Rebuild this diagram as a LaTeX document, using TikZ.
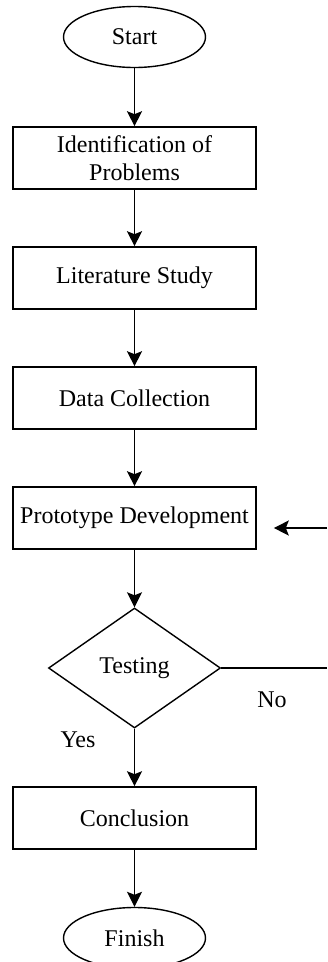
\documentclass[tikz,border=0pt]{standalone}
\usepackage{fontspec}
\setmainfont{Liberation Serif}
\usetikzlibrary{shapes.geometric,arrows.meta}
\begin{document}
\begin{tikzpicture}[x=1pt,y=-1pt,node distance=120pt,font=\fontsize{24}{28}\selectfont]
\tikzstyle{terminal} = [ellipse, minimum width=142pt, minimum height=61pt, inner sep=0pt, draw=black, line width=1.4pt]
\tikzstyle{process} = [rectangle, minimum width=243pt, minimum height=62pt, inner sep=2pt, text centered, align=center, draw=black, line width=1.6pt]
\tikzstyle{decision} = [diamond, minimum width=172pt, minimum height=120pt, inner sep=0pt, draw=black, line width=1.4pt]
\tikzstyle{arrow} = [line width=1.4pt, -{Stealth[width=15pt,length=15pt,inset=3pt]}]
\useasboundingbox (0,0) rectangle (327,962);
\node (start) [terminal] at (134.5,37) {Start};
\node (ident) [process, below of=start, node distance=121pt] {Identification of\\Problems};
\node (lit) [process, below of=ident] {Literature Study};
\node (data) [process, below of=lit] {Data Collection};
\node (proto) [process, below of=data] {Prototype Development};
\node (test) [decision, below of=proto, node distance=150pt] {Testing};
\node (concl) [process, below of=test, node distance=150pt] {Conclusion};
\node (finish) [terminal, below of=concl, node distance=120pt] {Finish};
\coordinate (noend) at (327,668);
\coordinate (backin) at (327,528);
\draw [arrow] (start) -- (ident);
\draw [arrow] (ident) -- (lit);
\draw [arrow] (lit) -- (data);
\draw [arrow] (data) -- (proto);
\draw [arrow] (proto) -- (test);
\draw [arrow] (test) -- (concl);
\draw [arrow] (concl) -- (finish);
\draw [line width=1.4pt] (test.east) -- (noend);
\draw [arrow, shorten >=17pt] (backin) -- (backin -| proto.east);
\node (no) at (272,700) {No};
\node (yes) at (78,740) {Yes};
\end{tikzpicture}
\end{document}
